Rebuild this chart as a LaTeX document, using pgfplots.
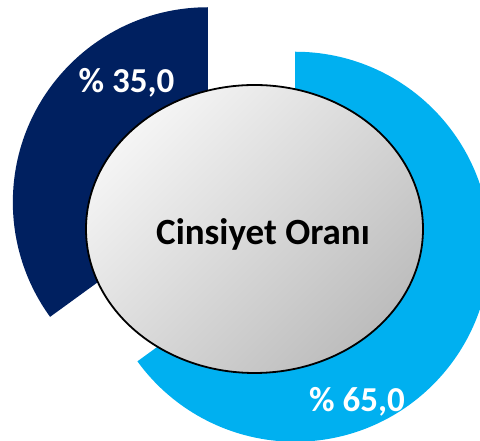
\documentclass[border=0pt]{standalone}
\usepackage{pgfplots}
\pgfplotsset{compat=1.18}
\usepackage{pgfplotstable}
\usepackage{fontspec}
\setmainfont{Carlito}
\definecolor{darkblue}{HTML}{002060}
\definecolor{lightblue}{HTML}{00B0F0}

% shares of the two slices (percent)
\pgfplotstableread{
share
35.0
65.0
}\sharetable

\begin{document}
\begin{tikzpicture}
\pgfplotstablegetelem{0}{share}\of\sharetable \let\shareA\pgfplotsretval
\pgfplotstablegetelem{1}{share}\of\sharetable \let\shareB\pgfplotsretval
\pgfmathsetmacro{\angA}{3.6*\shareA}
\pgfmathsetmacro{\angB}{3.6*\shareB}
\begin{axis}[
    width=480pt,
    height=441pt,
    scale only axis,
    xmin=0, xmax=480,
    ymin=0, ymax=441,
    ticks=none,
    axis line style={draw=none},
    clip=true
]
% dark slice: counter-clockwise from 12 o'clock, exploded along its bisector
\fill[darkblue]
    (axis cs:{251.5+49*cos(90+\angA/2)},{216.5+49*sin(90+\angA/2)})
    -- ++(90:195pt) arc[start angle=90, end angle={90+\angA}, radius=195pt] -- cycle;
% light slice: clockwise from 12 o'clock
\fill[lightblue]
    (axis cs:{251.5+49*cos(90-\angB/2)},{216.5+49*sin(90-\angB/2)})
    -- ++(90:195pt) arc[start angle=90, end angle={90-\angB}, radius=195pt] -- cycle;
% centre disc
\shadedraw[shading=axis, top color=gray!8, bottom color=gray!52,
    shading angle=45, draw=black, line width=1.8pt]
    (axis cs:254.5,212) ellipse [x radius=168.5pt, y radius=144pt];
\node[anchor=base, font=\bfseries\fontsize{37}{40}\selectfont]
    at (axis cs:263,196) {Cinsiyet Oranı};
\pgfkeys{/pgf/number format/.cd,fixed,fixed zerofill,precision=1,use comma,assume math mode=true}
\node[anchor=base, text=white, font=\bfseries\fontsize{35}{38}\selectfont]
    at (axis cs:126.5,348) {\% \pgfmathprintnumber{\shareA}};
\node[anchor=base, text=white, font=\bfseries\fontsize{35}{38}\selectfont]
    at (axis cs:357,29) {\% \pgfmathprintnumber{\shareB}};
\end{axis}
\end{tikzpicture}
\end{document}
